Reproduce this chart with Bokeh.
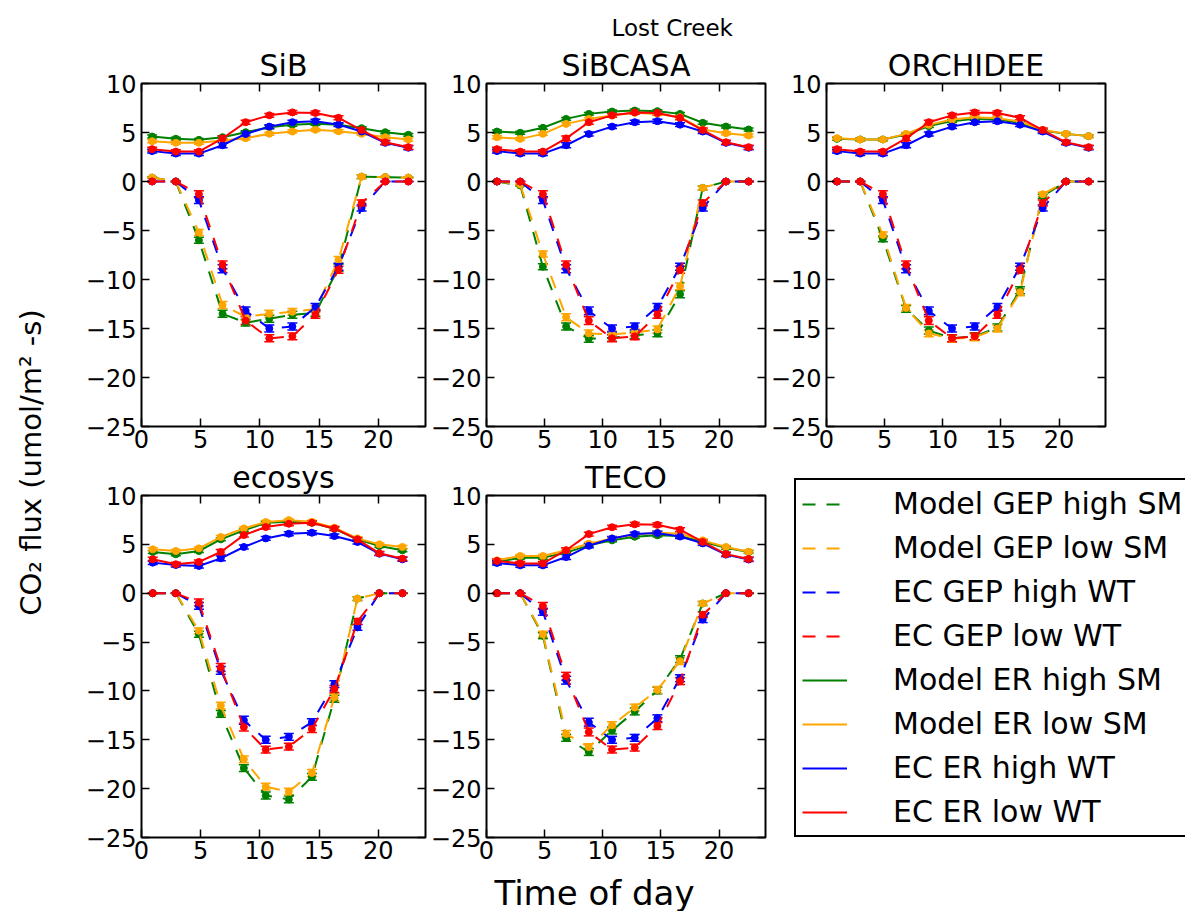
import math

from bokeh.embed import file_html
from bokeh.layouts import column, row
from bokeh.models import (ColumnDataSource, CustomJSTickFormatter, FixedTicker,
                          Label, Legend, LegendItem, LinearAxis, Range1d,
                          TeeHead, Title, Whisker)
from bokeh.plotting import figure
from bokeh.resources import INLINE

FONT = "DejaVu Sans"

# ---------------------------------------------------------------- data
# mean hour of each two-hour bin
HOURS = [0.9, 2.9, 4.85, 6.85, 8.8, 10.8, 12.75, 14.7, 16.65, 18.6, 20.6, 22.55]
ECOSYS_HOURS = [0.95, 2.9, 4.85, 6.7, 8.65, 10.5, 12.45, 14.4, 16.3, 18.25, 20.1, 22.05]

# eddy-covariance observations (umol/m2-s)
EC_GEP_HIGH = [0.0, 0.0, -1.9, -8.9, -13.2, -15.0, -14.8, -12.8, -8.7, -2.7, 0.0, 0.0]
EC_GEP_LOW = [0.0, 0.0, -1.3, -8.5, -14.2, -16.0, -15.8, -13.6, -9.0, -2.2, 0.0, 0.0]
EC_ER_HIGH = [3.1, 2.85, 2.85, 3.7, 4.85, 5.6, 6.05, 6.15, 5.8, 5.1, 3.95, 3.45]
EC_ER_LOW = [3.3, 3.05, 3.05, 4.4, 6.05, 6.75, 7.05, 7.0, 6.5, 5.25, 4.0, 3.5]

ECOSYS_EC_GEP_HIGH = [0.0, 0.0, -1.3, -7.9, -13.0, -15.0, -14.7, -13.2, -9.3, -3.5, 0.0, 0.0]
ECOSYS_EC_GEP_LOW = [0.0, 0.0, -0.95, -7.6, -13.7, -16.0, -15.7, -13.9, -9.8, -2.9, 0.0, 0.0]
ECOSYS_EC_ER_HIGH = [3.13, 2.89, 2.79, 3.57, 4.73, 5.61, 6.09, 6.19, 5.85, 5.24, 4.05, 3.47]
ECOSYS_EC_ER_LOW = [3.47, 2.96, 3.2, 4.22, 5.95, 6.77, 7.11, 7.21, 6.63, 5.51, 4.08, 3.54]

# model output
SIB_GEP_HIGH = [0.4, 0.0, -6.0, -13.5, -14.4, -14.0, -13.6, -13.4, -8.8, 0.5, 0.45, 0.4]
SIB_GEP_LOW = [0.4, 0.0, -5.2, -12.6, -13.8, -13.5, -13.3, -13.0, -8.0, 0.5, 0.45, 0.4]
SIB_ER_HIGH = [4.59, 4.36, 4.25, 4.52, 5.03, 5.54, 5.79, 5.89, 5.79, 5.44, 5.03, 4.76]
SIB_ER_LOW = [4.11, 3.95, 3.95, 4.18, 4.42, 4.87, 5.1, 5.27, 5.13, 4.87, 4.52, 4.29]

SIBCASA_GEP_HIGH = [0.0, -0.4, -8.7, -14.8, -16.05, -15.95, -15.7, -15.5, -11.5, -0.65, 0.0, 0.0]
SIBCASA_GEP_LOW = [0.0, -0.3, -7.4, -13.85, -15.5, -15.6, -15.4, -15.1, -10.7, -0.65, 0.0, 0.0]
SIBCASA_ER_HIGH = [5.1, 4.97, 5.48, 6.39, 6.9, 7.14, 7.24, 7.18, 6.9, 5.99, 5.61, 5.31]
SIBCASA_ER_LOW = [4.52, 4.35, 4.86, 5.88, 6.39, 6.73, 7.01, 6.9, 6.56, 5.31, 4.93, 4.69]

ORCHIDEE_GEP_HIGH = [0.0, 0.0, -5.85, -13.0, -15.2, -16.0, -15.8, -14.9, -11.1, -1.5, 0.0, 0.0]
ORCHIDEE_GEP_LOW = [0.0, 0.0, -5.45, -12.9, -15.5, -16.05, -15.9, -15.0, -11.3, -1.3, 0.0, 0.0]
ORCHIDEE_ER_HIGH = [4.35, 4.29, 4.29, 4.8, 5.65, 6.16, 6.39, 6.33, 5.99, 5.2, 4.86, 4.63]
ORCHIDEE_ER_LOW = [4.42, 4.29, 4.29, 4.86, 5.78, 6.33, 6.56, 6.46, 6.12, 5.27, 4.86, 4.63]

ECOSYS_GEP_HIGH = [0.0, 0.0, -4.2, -12.35, -17.9, -20.7, -21.1, -18.8, -10.8, -0.55, 0.0, 0.0]
ECOSYS_GEP_LOW = [0.0, 0.0, -3.85, -11.5, -17.0, -19.8, -20.3, -18.4, -10.65, -0.55, 0.0, 0.0]
ECOSYS_ER_HIGH = [4.22, 3.98, 4.32, 5.51, 6.43, 7.21, 7.31, 7.21, 6.6, 5.51, 4.83, 4.39]
ECOSYS_ER_LOW = [4.49, 4.32, 4.59, 5.75, 6.63, 7.28, 7.48, 7.31, 6.7, 5.61, 5.0, 4.73]

TECO_GEP_HIGH = [0.0, 0.0, -4.35, -14.8, -16.25, -14.05, -12.1, -9.95, -6.75, -1.05, 0.0, 0.0]
TECO_GEP_LOW = [0.0, 0.0, -4.2, -14.4, -15.75, -13.5, -11.7, -9.9, -6.95, -1.05, 0.0, 0.0]
TECO_ER_HIGH = [3.2, 3.64, 3.64, 4.15, 4.9, 5.41, 5.78, 5.92, 5.85, 5.27, 4.66, 4.22]
TECO_ER_LOW = [3.37, 3.81, 3.81, 4.39, 5.07, 5.61, 6.02, 6.19, 6.09, 5.41, 4.73, 4.25]

# standard errors of the bin means
MODEL_GEP_ERR = [0.05, 0.05, 0.3, 0.35, 0.35, 0.35, 0.35, 0.35, 0.35, 0.2, 0.05, 0.05]
MODEL_ER_ERR = [0.15, 0.15, 0.15, 0.15, 0.15, 0.15, 0.15, 0.15, 0.15, 0.15, 0.15, 0.15]
EC_GEP_ERR = [0.0, 0.0, 0.35, 0.4, 0.4, 0.35, 0.35, 0.35, 0.35, 0.3, 0.0, 0.0]
EC_ER_ERR = [0.2, 0.2, 0.2, 0.25, 0.2, 0.2, 0.2, 0.2, 0.2, 0.2, 0.2, 0.2]

SERIES_LABELS = ["Model GEP high SM", "Model GEP low SM", "EC GEP high WT", "EC GEP low WT",
                 "Model ER high SM", "Model ER low SM", "EC ER high WT", "EC ER low WT"]
X_TICKS = [0, 5, 10, 15, 20]
Y_TICKS = [-25, -20, -15, -10, -5, 0, 5, 10]

# ---------------------------------------------------------------- style
COLORS = ["green", "orange", "blue", "red", "green", "orange", "blue", "red"]
DASH = "13 11"
DASHES = [DASH, DASH, DASH, DASH, "solid", "solid", "solid", "solid"]
ERRS = [MODEL_GEP_ERR, MODEL_GEP_ERR, EC_GEP_ERR, EC_GEP_ERR,
        MODEL_ER_ERR, MODEL_ER_ERR, EC_ER_ERR, EC_ER_ERR]

MINUS_CODE = "return tick < 0 ? '\u2212' + Math.abs(tick) : String(tick);"

# pixel geometry of the grid
ROW1_TOP, ROW1_BOTTOM = 83, 31
ROW2_TOP, ROW2_BOTTOM = 36, 34
FH1, FH2 = 343, 344


def add_axes(p):
    sides = [("below", X_TICKS, True), ("above", X_TICKS, False),
             ("left", Y_TICKS, True), ("right", Y_TICKS, False)]
    for side, ticks, labelled in sides:
        ax = LinearAxis(ticker=FixedTicker(ticks=ticks))
        ax.axis_line_color = None
        ax.major_tick_in = 8
        ax.major_tick_out = 0
        ax.minor_tick_line_color = None
        ax.major_tick_line_color = "black"
        ax.major_tick_line_width = 1.5
        if labelled:
            ax.formatter = CustomJSTickFormatter(code=MINUS_CODE)
            ax.major_label_text_font = FONT
            ax.major_label_text_font_size = "24px"
            ax.major_label_text_color = "black"
            ax.major_label_standoff = 3 if side == "below" else 5
        else:
            ax.formatter = CustomJSTickFormatter(code="return '';")
            ax.major_label_text_font_size = "1px"
            ax.major_label_standoff = 0
        p.add_layout(ax, side)


def make_panel(name, hours, values, left, right, top, bottom, fw, fh):
    p = figure(width=left + fw + right, height=top + fh + bottom, title=None,
               x_range=Range1d(0, 24), y_range=Range1d(-25, 10),
               x_axis_type=None, y_axis_type=None,
               toolbar_location=None, output_backend="svg",
               min_border_left=left, min_border_right=right,
               min_border_top=top, min_border_bottom=bottom)
    p.outline_line_color = "black"
    p.outline_line_width = 2
    p.background_fill_color = "white"
    p.border_fill_color = "white"
    add_axes(p)
    for vals, err, color, dash in zip(values, ERRS, COLORS, DASHES):
        src = ColumnDataSource(dict(
            x=hours, y=vals,
            lower=[v - e for v, e in zip(vals, err)],
            upper=[v + e for v, e in zip(vals, err)]))
        p.line("x", "y", source=src, line_color=color, line_width=2, line_dash=dash)
        p.add_layout(Whisker(source=src, base="x", lower="lower", upper="upper",
                             line_color=color, line_width=1.5,
                             upper_head=TeeHead(size=10, line_color=color, line_width=1.5),
                             lower_head=TeeHead(size=10, line_color=color, line_width=1.5)))
        p.scatter("x", "y", source=src, size=7, marker="circle",
                  fill_color=color, line_color=color)
    p.add_layout(Title(text=name, align="center", standoff=1, text_font=FONT,
                       text_font_size="30px", text_font_style="normal",
                       text_color="black"), "above")
    return p


def blank(width, height):
    p = figure(width=width, height=height, x_range=Range1d(0, width),
               y_range=Range1d(height, 0), x_axis_type=None, y_axis_type=None,
               toolbar_location=None, output_backend="svg", min_border=0)
    p.outline_line_color = None
    p.background_fill_color = "white"
    p.border_fill_color = "white"
    return p


# ---------------------------------------------------------------- panels
p_sib = make_panel("SiB", HOURS,
                   [SIB_GEP_HIGH, SIB_GEP_LOW, EC_GEP_HIGH, EC_GEP_LOW,
                    SIB_ER_HIGH, SIB_ER_LOW, EC_ER_HIGH, EC_ER_LOW],
                   71, 2, ROW1_TOP, ROW1_BOTTOM, 284, FH1)
p_sibcasa = make_panel("SiBCASA", HOURS,
                       [SIBCASA_GEP_HIGH, SIBCASA_GEP_LOW, EC_GEP_HIGH, EC_GEP_LOW,
                        SIBCASA_ER_HIGH, SIBCASA_ER_LOW, EC_ER_HIGH, EC_ER_LOW],
                       55, 2, ROW1_TOP, ROW1_BOTTOM, 283, FH1)
p_sibcasa.add_layout(Title(text="Lost Creek", align="left", offset=125, standoff=10,
                           text_font=FONT, text_font_size="23px",
                           text_font_style="normal", text_color="black"), "above")
p_orchidee = make_panel("ORCHIDEE", HOURS,
                        [ORCHIDEE_GEP_HIGH, ORCHIDEE_GEP_LOW, EC_GEP_HIGH, EC_GEP_LOW,
                         ORCHIDEE_ER_HIGH, ORCHIDEE_ER_LOW, EC_ER_HIGH, EC_ER_LOW],
                        55, 80, ROW1_TOP, ROW1_BOTTOM, 283, FH1)
p_ecosys = make_panel("ecosys", ECOSYS_HOURS,
                      [ECOSYS_GEP_HIGH, ECOSYS_GEP_LOW, ECOSYS_EC_GEP_HIGH, ECOSYS_EC_GEP_LOW,
                       ECOSYS_ER_HIGH, ECOSYS_ER_LOW, ECOSYS_EC_ER_HIGH, ECOSYS_EC_ER_LOW],
                      71, 2, ROW2_TOP, ROW2_BOTTOM, 284, FH2)
TECO_VALUES = [TECO_GEP_HIGH, TECO_GEP_LOW, EC_GEP_HIGH, EC_GEP_LOW,
               TECO_ER_HIGH, TECO_ER_LOW, EC_ER_HIGH, EC_ER_LOW]
p_teco = make_panel("TECO", HOURS, TECO_VALUES,
                    55, 2, ROW2_TOP, ROW2_BOTTOM, 283, FH2)

# ---------------------------------------------------------------- legend
# the legend sits in the left side panel of its own plot; the key lines
# carry the TECO series but are not drawn themselves
leg_fig = figure(width=418, height=ROW2_TOP + FH2 + ROW2_BOTTOM, title=None,
                 x_range=Range1d(0, 24), y_range=Range1d(-25, 10),
                 x_axis_type=None, y_axis_type=None, toolbar_location=None,
                 output_backend="svg", min_border_left=0, min_border_right=0,
                 min_border_top=ROW2_TOP, min_border_bottom=ROW2_BOTTOM)
leg_fig.outline_line_color = None
leg_fig.background_fill_color = "white"
leg_fig.border_fill_color = "white"
items = []
for label, color, dash, vals in zip(SERIES_LABELS, COLORS, DASHES, TECO_VALUES):
    r = leg_fig.line(x=HOURS, y=vals, line_color=color, line_width=2,
                     line_dash=dash, visible=False)
    items.append(LegendItem(label=label, renderers=[r]))
legend = Legend(items=items, location=(27, 0), margin=0, padding=6, spacing=9,
                glyph_width=45, glyph_height=30, label_height=30, label_standoff=46,
                label_text_font=FONT, label_text_font_size="30px",
                label_text_color="black",
                border_line_color="black", border_line_width=2, border_line_alpha=1.0,
                background_fill_color="white", background_fill_alpha=1.0)
leg_fig.add_layout(legend, "left")

# ---------------------------------------------------------------- shared labels
ylab = blank(70, 911)
ylab.add_layout(Label(x=30, y=462, text="CO\u2082 flux (umol/m\u00b2 -s)", angle=math.pi / 2,
                      text_align="center", text_baseline="middle", text_font=FONT,
                      text_font_size="29px", text_color="black"))
xlab = blank(1115, 40)
xlab.add_layout(Label(x=524, y=21, text="Time of day", text_align="center",
                      text_baseline="middle", text_font=FONT, text_font_size="34px",
                      text_color="black"))

grid = column(row(p_sib, p_sibcasa, p_orchidee),
              row(p_ecosys, p_teco, leg_fig),
              xlab)
page = row(ylab, grid)

open("out.html", "w").write(file_html(page, INLINE, title="Lost Creek"))
